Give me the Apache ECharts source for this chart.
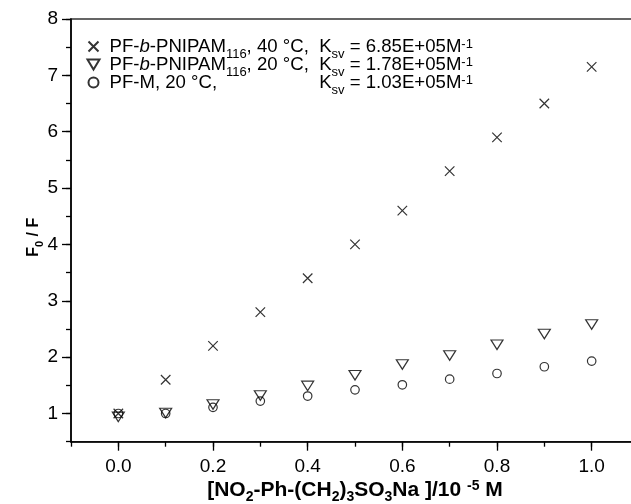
<!DOCTYPE html>
<html><head><meta charset="utf-8">
<script src="https://cdn.jsdelivr.net/npm/echarts@6/dist/echarts.min.js"></script>
<style>html,body{margin:0;padding:0;background:#fff}#c{width:631px;height:504px}</style>
</head><body><div id="c"></div>
<script>
// ---- data ----
const conc = [0.0, 0.1, 0.2, 0.3, 0.4, 0.5, 0.6, 0.7, 0.8, 0.9, 1.0];
const pnipam40 = [1.0, 1.6, 2.2, 2.8, 3.4, 4.0, 4.6, 5.3, 5.9, 6.5, 7.15];
const pnipam20 = [0.94, 1.01, 1.16, 1.32, 1.49, 1.68, 1.87, 2.03, 2.22, 2.41, 2.58];
const pfm20 = [1.0, 1.0, 1.11, 1.22, 1.31, 1.42, 1.51, 1.61, 1.71, 1.83, 1.93];
const xTickLabels = ['0.0', '0.2', '0.4', '0.6', '0.8', '1.0'];
const yTickLabels = ['1', '2', '3', '4', '5', '6', '7', '8'];
const seriesNames = ['PF-b-PNIPAM116, 40 °C', 'PF-b-PNIPAM116, 20 °C', 'PF-M, 20 °C'];
const ksv = ['6.85E+05', '1.78E+05', '1.03E+05'];

const fam = "'Liberation Sans', Arial, sans-serif";
const F = 18.6, FS = 13;
const ctx = document.createElement('canvas').getContext('2d');
function tw(font, s) { ctx.font = font; return ctx.measureText(s).width; }
const pre1 = tw(`${F}px ${fam}`, 'PF-') + tw(`italic ${F}px ${fam}`, 'b') + tw(`${F}px ${fam}`, '-PNIPAM')
  + tw(`${FS}px ${fam}`, '116') + tw(`${F}px ${fam}`, ', 20 °C,  ');
const pre3 = tw(`${F}px ${fam}`, 'PF-M, 20 °C,');
const spacer = Math.max(4, pre1 - pre3);

const pair = ys => conc.map((x, i) => [x, ys[i]]);
const tail = k => `{t|K}{sub|sv}{t| = ${k}M}{sup|-1}`;
const legendText = {};
legendText[seriesNames[0]] = `{g| }{t|PF-}{i|b}{t|-PNIPAM}{sub|116}{t|, 40 °C,  }` + tail(ksv[0]);
legendText[seriesNames[1]] = `{g| }{t|PF-}{i|b}{t|-PNIPAM}{sub|116}{t|, 20 °C,  }` + tail(ksv[1]);
legendText[seriesNames[2]] = `{g| }{t|PF-M, 20 °C,}{sp| }` + tail(ksv[2]);

const L = 71, T = 19, W = 568, H = 422.7;
const xmin = -0.1, xmax = 1.1, ymin = 0.5, ymax = 8;
const px = W / (xmax - xmin), py = H / (ymax - ymin);

const chart = echarts.init(document.getElementById('c'), null, { renderer: 'canvas' });
const axisLine = { show: true, onZero: false, lineStyle: { color: '#000', width: 1.6 } };
const common = { type: 'scatter', emphasis: { disabled: true }, xAxisIndex: 0, yAxisIndex: 0 };
const xTitleRich = {
  b: { fontFamily: fam, fontWeight: 'bold', fontSize: 21, lineHeight: 23, color: '#000' },
  s: { fontFamily: fam, fontWeight: 'bold', fontSize: 14, lineHeight: 14, padding: [11, 0, 0, 0], verticalAlign: 'top', color: '#000' },
  p: { fontFamily: fam, fontWeight: 'bold', fontSize: 14, lineHeight: 14, verticalAlign: 'top', color: '#000' }
};
const yTitleRich = {
  b: { fontFamily: fam, fontWeight: 'bold', fontSize: 16, lineHeight: 17, color: '#000' },
  s: { fontFamily: fam, fontWeight: 'bold', fontSize: 11, lineHeight: 11, padding: [9, 0, 0, 0], verticalAlign: 'top', color: '#000' }
};
chart.setOption({
  animation: false,
  backgroundColor: '#fff',
  textStyle: { fontFamily: fam, color: '#000' },
  grid: [
    { left: L, top: T, width: W, height: H, containLabel: false, outerBoundsMode: 'none',
      show: true, borderColor: '#333', borderWidth: 1.5, backgroundColor: 'transparent' },
    { left: L + (0 - xmin) * px, top: T, width: 1 * px, height: (ymax - 1) * py,
      containLabel: false, outerBoundsMode: 'none', show: false }
  ],
  xAxis: [
    { type: 'value', gridIndex: 0, min: xmin, max: xmax, interval: 0.1, axisLine,
      axisTick: { show: true, inside: false, length: 5, lineStyle: { color: '#000', width: 1.3 } },
      axisLabel: { show: false }, splitLine: { show: false },
      name: '{b|[NO}{s|2}{b|-Ph-(CH}{s|2}{b|)}{s|3}{b|SO}{s|3}{b|Na ]/10 }{p|-5}{b| M}',
      nameLocation: 'middle', nameGap: 37,
      nameTextStyle: { rich: xTitleRich } },
    { type: 'value', gridIndex: 1, min: 0, max: 1, interval: 0.2, offset: H - (ymax - 1) * py,
      axisLine: { show: false, onZero: false },
      axisTick: { show: true, inside: false, length: 9, lineStyle: { color: '#000', width: 1.3 } },
      axisLabel: { show: true, fontFamily: fam, fontSize: 19, color: '#000', margin: 16,
        formatter: v => xTickLabels[Math.round(v / 0.2)] },
      splitLine: { show: false } }
  ],
  yAxis: [
    { type: 'value', gridIndex: 0, min: ymin, max: ymax, interval: 0.5, axisLine,
      axisTick: { show: true, inside: false, length: 5, lineStyle: { color: '#000', width: 1.3 } },
      axisLabel: { show: false }, splitLine: { show: false },
      name: '{b|F}{s|0}{b| / F}', nameLocation: 'middle', nameGap: 29, nameRotate: 90,
      nameTextStyle: { rich: yTitleRich, padding: [0, 14, 0, 0] } },
    { type: 'value', gridIndex: 1, min: 1, max: ymax, interval: 1, offset: (0 - xmin) * px,
      axisLine: { show: false, onZero: false },
      axisTick: { show: true, inside: false, length: 9, lineStyle: { color: '#000', width: 1.3 } },
      axisLabel: { show: true, fontFamily: fam, fontSize: 19, color: '#000', margin: 13,
        formatter: v => yTickLabels[Math.round(v) - 1] },
      splitLine: { show: false } }
  ],
  legend: {
    orient: 'vertical', left: 80, top: 32, itemGap: -5.5, itemWidth: 12, itemHeight: 10,
    data: [
      { name: seriesNames[0] },
      { name: seriesNames[1], icon: 'path://M0,0L12,0L6,10Z' },
      { name: seriesNames[2] }
    ],
    formatter: n => legendText[n],
    textStyle: { rich: {
      g: { fontFamily: fam, fontSize: F, lineHeight: 18, width: 5 },
      t: { fontFamily: fam, fontSize: F, lineHeight: 18, color: '#000' },
      i: { fontFamily: fam, fontSize: F, fontStyle: 'italic', lineHeight: 18, color: '#000' },
      sub: { fontFamily: fam, fontSize: FS, lineHeight: 12, padding: [10, 0, 0, 0], verticalAlign: 'top', color: '#000' },
      sup: { fontFamily: fam, fontSize: FS, lineHeight: 12, verticalAlign: 'top', color: '#000' },
      sp: { fontFamily: fam, fontSize: F, lineHeight: 18, width: spacer }
    } }
  },
  series: [
    Object.assign({}, common, { name: seriesNames[0], data: pair(pnipam40),
      symbol: 'path://M0,0L10,10M10,0L0,10', symbolSize: 9.5,
      itemStyle: { color: 'none', borderColor: '#000', borderWidth: 1.2 } }),
    Object.assign({}, common, { name: seriesNames[1], data: pair(pnipam20),
      symbol: 'triangle', symbolRotate: 180, symbolSize: [12, 9.5],
      itemStyle: { color: 'none', borderColor: '#000', borderWidth: 1.2 } }),
    Object.assign({}, common, { name: seriesNames[2], data: pair(pfm20),
      symbol: 'circle', symbolSize: 8.5,
      itemStyle: { color: 'none', borderColor: '#000', borderWidth: 1.2 } })
  ]
});
</script></body></html>
